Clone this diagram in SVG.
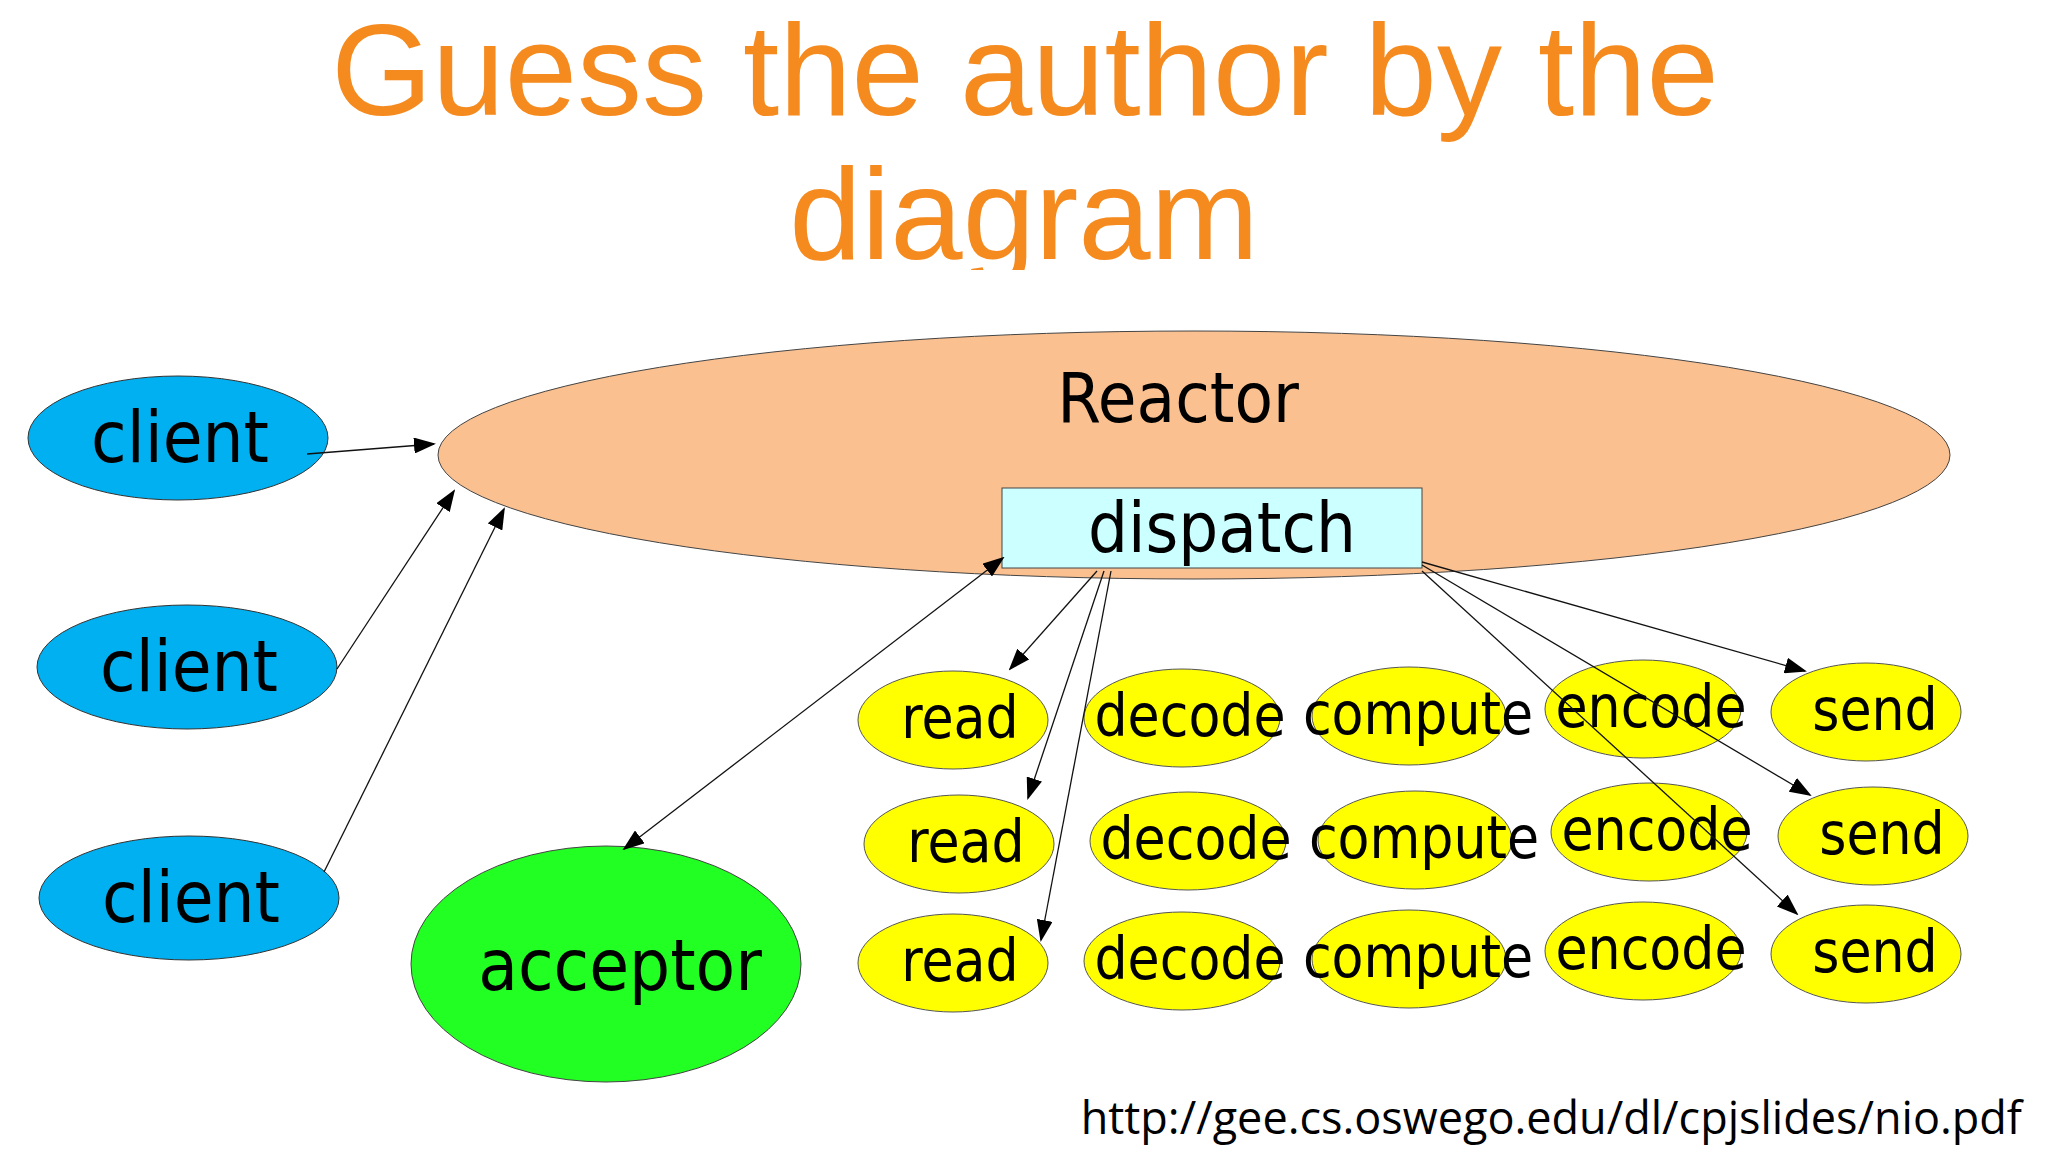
<svg xmlns="http://www.w3.org/2000/svg" width="2048" height="1152" viewBox="0 0 2048 1152">
<style>
.t{font-family:"DejaVu Sans Condensed","DejaVu Sans",sans-serif;fill:#000;text-anchor:middle}
.c{fill:#00B0F0;stroke:#333;stroke-width:1}
.y{fill:#FFFF00;stroke:#555;stroke-width:1}
.yl{font-size:58px}
.ln{stroke:#111;stroke-width:1.3;fill:none;marker-end:url(#ah)}
</style>
<defs>
<marker id="ah" markerUnits="userSpaceOnUse" markerWidth="22" markerHeight="16" refX="20" refY="8" orient="auto"><path d="M0,0 L22,8 L0,16 Z" fill="#000"/></marker>
<marker id="as" markerUnits="userSpaceOnUse" markerWidth="22" markerHeight="16" refX="2" refY="8" orient="auto"><path d="M22,0 L0,8 L22,16 Z" fill="#000"/></marker>
<clipPath id="tc"><rect x="0" y="0" width="2048" height="270"/></clipPath>
</defs>
<rect width="2048" height="1152" fill="#FFFFFF"/>
<g id="title" clip-path="url(#tc)" font-family="Liberation Sans,Arial,sans-serif" font-size="130" fill="#F58A1F" text-anchor="middle">
<text x="1025" y="115">Guess the author by the</text>
<text x="1024" y="259">diagram</text>
</g>
<g id="reactor"><ellipse cx="1194" cy="455" rx="756" ry="124" fill="#FAC090" stroke="#444" stroke-width="1"/><text class="t" x="1178" y="422" font-size="70">Reactor</text></g>
<g id="dispatch"><rect x="1002" y="488" width="420" height="80" fill="#CCFFFF" stroke="#444" stroke-width="1"/><text class="t" x="1222" y="552" font-size="70">dispatch</text></g>
<g id="client1"><ellipse class="c" cx="178" cy="438" rx="150" ry="62"/><text class="t" x="180" y="462" font-size="72">client</text></g>
<g id="client2"><ellipse class="c" cx="187" cy="667" rx="150" ry="62"/><text class="t" x="189" y="691" font-size="72">client</text></g>
<g id="client3"><ellipse class="c" cx="189" cy="898" rx="150" ry="62"/><text class="t" x="191" y="922" font-size="72">client</text></g>
<g id="acceptor"><ellipse cx="606" cy="964" rx="195" ry="118" fill="#22FF22" stroke="#444" stroke-width="1"/><text class="t" x="620" y="990" font-size="72">acceptor</text></g>
<g id="read1"><ellipse class="y" cx="953" cy="720" rx="95" ry="49"/><text class="t yl" x="960" y="738">read</text></g>
<g id="decode1"><ellipse class="y" cx="1182" cy="718" rx="98" ry="49"/><text class="t yl" x="1190" y="736">decode</text></g>
<g id="compute1"><ellipse class="y" cx="1409" cy="716" rx="97" ry="49"/><text class="t yl" x="1418" y="734">compute</text></g>
<g id="encode1"><ellipse class="y" cx="1643" cy="709" rx="98" ry="49"/><text class="t yl" x="1651" y="727">encode</text></g>
<g id="send1"><ellipse class="y" cx="1866" cy="712" rx="95" ry="49"/><text class="t yl" x="1875" y="730">send</text></g>
<g id="read2"><ellipse class="y" cx="959" cy="844" rx="95" ry="49"/><text class="t yl" x="966" y="862">read</text></g>
<g id="decode2"><ellipse class="y" cx="1188" cy="841" rx="98" ry="49"/><text class="t yl" x="1196" y="859">decode</text></g>
<g id="compute2"><ellipse class="y" cx="1415" cy="840" rx="97" ry="49"/><text class="t yl" x="1424" y="858">compute</text></g>
<g id="encode2"><ellipse class="y" cx="1649" cy="832" rx="98" ry="49"/><text class="t yl" x="1657" y="850">encode</text></g>
<g id="send2"><ellipse class="y" cx="1873" cy="836" rx="95" ry="49"/><text class="t yl" x="1882" y="854">send</text></g>
<g id="read3"><ellipse class="y" cx="953" cy="963" rx="95" ry="49"/><text class="t yl" x="960" y="981">read</text></g>
<g id="decode3"><ellipse class="y" cx="1182" cy="961" rx="98" ry="49"/><text class="t yl" x="1190" y="979">decode</text></g>
<g id="compute3"><ellipse class="y" cx="1409" cy="959" rx="97" ry="49"/><text class="t yl" x="1418" y="977">compute</text></g>
<g id="encode3"><ellipse class="y" cx="1643" cy="951" rx="98" ry="49"/><text class="t yl" x="1651" y="969">encode</text></g>
<g id="send3"><ellipse class="y" cx="1866" cy="954" rx="95" ry="49"/><text class="t yl" x="1875" y="972">send</text></g>
<g id="connectors">
<line class="ln" x1="307" y1="454" x2="434" y2="444"/>
<line class="ln" x1="337" y1="669" x2="454" y2="491"/>
<line class="ln" x1="324" y1="872" x2="504" y2="509"/>
<line class="ln" x1="1003" y1="558" x2="624" y2="849" marker-start="url(#as)"/>
<line class="ln" x1="1097" y1="571" x2="1010" y2="669"/>
<line class="ln" x1="1104" y1="571" x2="1028" y2="798"/>
<line class="ln" x1="1111" y1="571" x2="1041" y2="940"/>
<line class="ln" x1="1422" y1="562" x2="1805" y2="671"/>
<line class="ln" x1="1422" y1="565" x2="1810" y2="795"/>
<line class="ln" x1="1422" y1="571" x2="1797" y2="914"/>
</g>
<text id="url" x="2022" y="1134" font-family="Open Sans,sans-serif" font-size="45" text-anchor="end" fill="#000">http://gee.cs.oswego.edu/dl/cpjslides/nio.pdf</text>
</svg>
